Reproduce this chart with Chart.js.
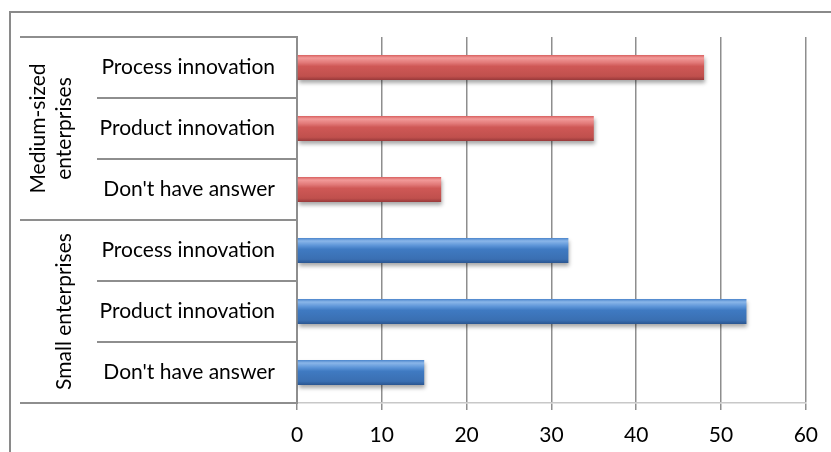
<!DOCTYPE html>
<html>
<head>
<meta charset="utf-8">
<script src="https://cdn.jsdelivr.net/npm/chart.js"></script>
<style>
  html, body { margin: 0; padding: 0; background: #fff; }
  #wrap { width: 831px; height: 452px; }
</style>
</head>
<body>
<div id="wrap"><canvas id="chart"></canvas></div>
<script>
const groupNames = [['Medium-sized', 'enterprises'], ['Small enterprises']];
const categories = ['Process innovation', 'Product innovation', "Don't have answer",
                    'Process innovation', 'Product innovation', "Don't have answer"];
const categoryGroup = [0, 0, 0, 1, 1, 1];
const values = [48, 35, 17, 32, 53, 15];
const xTicks = [0, 10, 20, 30, 40, 50, 60];

const FONT = 'Lato, "Open Sans", sans-serif';
const GRID = '#8e8e8e';
const BAR_PCT = 0.41;

// dégradés façon Excel
const palettes = [
    [[0, '#d8605f'], [0.12, '#f29a99'], [0.3, '#e27a79'], [0.45, '#cf5856'], [0.85, '#c0504d'], [1, '#98393a']],
    [[0, '#4a84cb'], [0.12, '#8ab6e9'], [0.3, '#5d95d8'], [0.45, '#3f7ac2'], [0.85, '#3a6fb2'], [1, '#2a5590']]
];

function barFill(ctx) {
    const chart = ctx.chart;
    const y = chart.scales.y;
    const pal = palettes[categoryGroup[ctx.dataIndex] || 0];
    if (!y || ctx.dataIndex === undefined) return pal[4][1];
    const center = y.getPixelForValue(ctx.dataIndex);
    const h = (y.height / categories.length) * BAR_PCT;
    if (!isFinite(center) || !isFinite(h) || h <= 0) return pal[4][1];
    const g = chart.ctx.createLinearGradient(0, center - h / 2, 0, center + h / 2);
    pal.forEach(s => g.addColorStop(s[0], s[1]));
    return g;
}

const decorations = {
    id: 'decorations',
    beforeDatasetsDraw(chart) {
        const c = chart.ctx;
        c.save();
        c.shadowColor = 'rgba(0,0,0,0.35)';
        c.shadowOffsetY = 3;
        c.shadowOffsetX = 1;
        c.shadowBlur = 4;
    },
    afterDatasetsDraw(chart) {
        chart.ctx.restore();
    },
    afterDraw(chart) {
        const c = chart.ctx;
        const y = chart.scales.y;
        const area = chart.chartArea;
        const step = y.height / categories.length;
        c.save();
        // bordure extérieure
        c.strokeStyle = '#8a8a8a';
        c.lineWidth = 2;
        c.beginPath();
        c.moveTo(10, chart.height);
        c.lineTo(10, 12);
        c.lineTo(chart.width, 12);
        c.stroke();

        // séparateurs des catégories
        c.strokeStyle = GRID;
        c.lineWidth = 2;
        for (let i = 0; i <= categories.length; i++) {
            const py = Math.round(area.top + i * step);
            const groupEdge = i === 0 || i === categories.length || categoryGroup[i] !== categoryGroup[i - 1];
            c.beginPath();
            c.moveTo(groupEdge ? 20 : 97, py);
            c.lineTo(area.left, py);
            c.stroke();
        }

        // libellés des groupes
        c.fillStyle = '#000';
        c.font = '21px ' + FONT;
        c.textAlign = 'center';
        c.textBaseline = 'middle';
        groupNames.forEach((lines, gi) => {
            const idx = categoryGroup.map((g, i) => g === gi ? i : -1).filter(i => i >= 0);
            const mid = (y.getPixelForValue(idx[0]) + y.getPixelForValue(idx[idx.length - 1])) / 2;
            const lh = 26;
            const cx = lines.length > 1 ? 51 : 64;
            c.save();
            c.translate(cx, mid);
            c.rotate(-Math.PI / 2);
            lines.forEach((t, li) => {
                c.fillText(t, 0, (li - (lines.length - 1) / 2) * lh);
            });
            c.restore();
        });
        c.restore();
    }
};

new Chart(document.getElementById('chart'), {
    type: 'bar',
    data: {
        labels: categories,
        datasets: [{
            data: values,
            backgroundColor: barFill,
            borderWidth: 0,
            barPercentage: BAR_PCT,
            categoryPercentage: 1
        }]
    },
    options: {
        indexAxis: 'y',
        responsive: true,
        maintainAspectRatio: false,
        animation: false,
        layout: { padding: { top: 37, right: 25, left: 0, bottom: 0 } },
        scales: {
            x: {
                min: xTicks[0],
                max: xTicks[xTicks.length - 1],
                afterBuildTicks: scale => { scale.ticks = xTicks.map(v => ({ value: v })); },
                afterFit: scale => { scale.height = 49; },
                grid: { color: GRID, lineWidth: 1.5, tickLength: 7 },
                border: { display: true, color: '#c8c8c8', width: 1.5 },
                ticks: { color: '#000', font: { family: FONT, size: 21 }, padding: 13 }
            },
            y: {
                afterFit: scale => { scale.width = 297; },
                grid: { display: false },
                border: { display: true, color: GRID, width: 2 },
                ticks: { color: '#000', font: { family: FONT, size: 21 }, padding: 14 }
            }
        },
        plugins: {
            legend: { display: false },
            tooltip: { enabled: false }
        }
    },
    plugins: [decorations]
});
</script>
</body>
</html>
